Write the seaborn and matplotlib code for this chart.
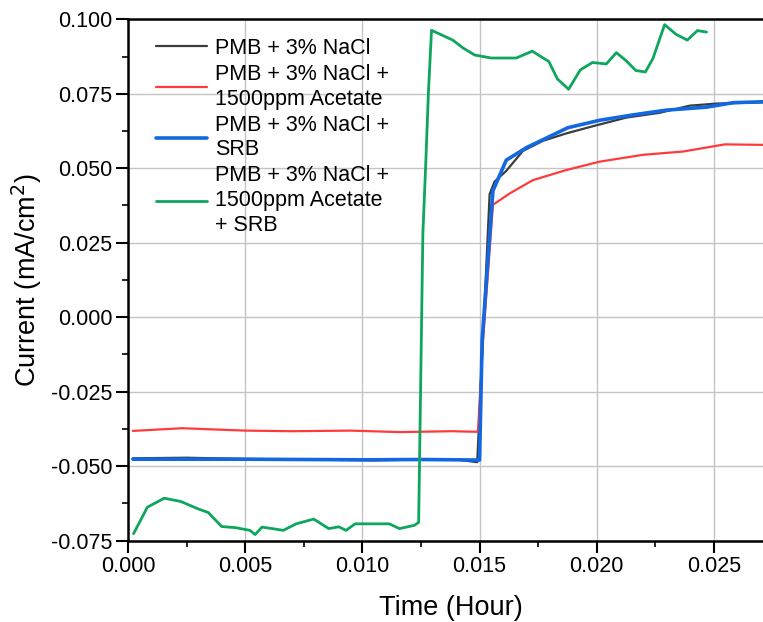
import numpy as np
import pandas as pd
import matplotlib
matplotlib.use("Agg")
import matplotlib.pyplot as plt
from matplotlib.ticker import MultipleLocator, FormatStrFormatter
import seaborn as sns

# ---- data ----
labels = [
    "PMB + 3% NaCl",
    "PMB + 3% NaCl +\n1500ppm Acetate",
    "PMB + 3% NaCl +\nSRB",
    "PMB + 3% NaCl +\n1500ppm Acetate\n+ SRB",
]
colors = ["#3c3c3c", "#ff3a3a", "#1268e0", "#0ea65c"]
widths = [1.6, 1.6, 2.6, 2.0]

black_t = [0.0002, 0.0025, 0.005, 0.0075, 0.0105, 0.0125, 0.0140, 0.0149,
           0.01543, 0.01564, 0.01614, 0.01685, 0.01771, 0.01871, 0.01984,
           0.02127, 0.02269, 0.02397, 0.02511, 0.0275]
black_i = [-0.0474, -0.0472, -0.0476, -0.0478, -0.0481, -0.0478, -0.0478, -0.0487,
           0.0413, 0.0455, 0.0491, 0.0558, 0.0592, 0.0617, 0.0641,
           0.0670, 0.0686, 0.0710, 0.0717, 0.0722]

red_t = [0.0002, 0.0023, 0.005, 0.007, 0.0095, 0.0116, 0.0138, 0.01493,
         0.01515, 0.01557, 0.01628, 0.01728, 0.01871, 0.02013, 0.02198,
         0.02369, 0.02547, 0.0275]
red_i = [-0.0382, -0.0373, -0.0381, -0.0383, -0.0381, -0.0386, -0.0383, -0.0385,
         -0.0078, 0.0377, 0.0415, 0.0460, 0.0494, 0.0522, 0.0545,
         0.0556, 0.0580, 0.0578]

blue_t = [0.0002, 0.0025, 0.005, 0.0075, 0.010, 0.0125, 0.0140, 0.01500,
          0.01511, 0.01557, 0.01614, 0.0170, 0.01877, 0.02013, 0.02155,
          0.02298, 0.02469, 0.02583, 0.0275]
blue_i = [-0.0477, -0.0477, -0.0477, -0.0478, -0.0479, -0.0478, -0.0479, -0.0480,
          -0.0078, 0.0424, 0.0527, 0.0569, 0.0636, 0.0661, 0.0679,
          0.0695, 0.0705, 0.0720, 0.0724]

green_t = [0.00023, 0.00082, 0.00154, 0.00225, 0.00296, 0.00342, 0.00399, 0.0046,
           0.0052, 0.00542, 0.00571, 0.00624, 0.00662, 0.00717, 0.00792, 0.00856,
           0.00899, 0.0093, 0.00969, 0.01115, 0.01158, 0.01222, 0.01240, 0.01258,
           0.01270, 0.01282, 0.01295, 0.01386, 0.01429, 0.01479, 0.0155, 0.01657,
           0.01725, 0.01796, 0.01832, 0.0188, 0.0193, 0.01982, 0.02041, 0.02084,
           0.02127, 0.02167, 0.02208, 0.0224, 0.0229, 0.02338, 0.02387, 0.0243,
           0.02469]
green_i = [-0.0727, -0.0638, -0.0608, -0.0619, -0.0643, -0.0656, -0.0703, -0.0707,
           -0.0716, -0.0730, -0.0705, -0.0711, -0.0716, -0.0694, -0.0678, -0.0710,
           -0.0704, -0.0716, -0.0694, -0.0694, -0.0710, -0.0699, -0.0689, 0.0280,
           0.0510, 0.0760, 0.0963, 0.0930, 0.0904, 0.0880, 0.0870, 0.0870,
           0.0893, 0.0858, 0.0800, 0.0765, 0.0830, 0.0855, 0.0850, 0.0888,
           0.0860, 0.0828, 0.0823, 0.0868, 0.0982, 0.0950, 0.0930, 0.0962,
           0.0957]

series = [(black_t, black_i), (red_t, red_i), (blue_t, blue_i), (green_t, green_i)]

# ---- plot ----
sns.set_style("ticks")
plt.rcParams["font.family"] = ["Liberation Sans", "DejaVu Sans"]
plt.rcParams["text.color"] = "black"
plt.rcParams["axes.labelcolor"] = "black"
plt.rcParams["xtick.color"] = "black"
plt.rcParams["ytick.color"] = "black"

fig = plt.figure(figsize=(7.63, 6.22), dpi=100)
ax = fig.add_axes([0.168, 0.131, 0.832, 0.838])

for (t, i), lab, c, w in zip(series, labels, colors, widths):
    df = pd.DataFrame({"time": t, "current": i})
    sns.lineplot(data=df, x="time", y="current", ax=ax, color=c, linewidth=w,
                 label=lab, sort=False, estimator=None)

ax.set_xlim(0, 0.0271)
ax.set_ylim(-0.075, 0.100)
ax.xaxis.set_major_locator(MultipleLocator(0.005))
ax.xaxis.set_minor_locator(MultipleLocator(0.0025))
ax.yaxis.set_major_locator(MultipleLocator(0.025))
ax.yaxis.set_minor_locator(MultipleLocator(0.0125))
ax.xaxis.set_major_formatter(FormatStrFormatter("%.3f"))
ax.yaxis.set_major_formatter(FormatStrFormatter("%.3f"))

ax.grid(True, which="major", color="#c4c4c4", linewidth=1.0)
ax.set_axisbelow(True)
for s in ["left", "bottom", "top"]:
    ax.spines[s].set_linewidth(1.8)
    ax.spines[s].set_color("black")
ax.spines["right"].set_visible(False)

ax.tick_params(which="major", direction="out", length=8.5, width=1.5, labelsize=15.5, pad=3)
ax.tick_params(which="minor", direction="out", length=4.3, width=1.2)
ax.tick_params(top=False)

ax.set_xlabel("Time (Hour)", fontsize=19.5)
ax.set_ylabel("Current (mA/cm$^2$)", fontsize=19.5)
ax.xaxis.set_label_coords(0.509, -0.104)
ax.yaxis.set_label_coords(-0.133, 0.5)

leg = ax.legend(loc="upper left", bbox_to_anchor=(0.031, 0.981), frameon=False,
                fontsize=15.5, handlelength=2.33, handletextpad=0.37,
                labelspacing=0.23, borderaxespad=0.0)
for txt in leg.get_texts():
    txt.set_linespacing(1.24)

fig.savefig("out.png", dpi=100)
